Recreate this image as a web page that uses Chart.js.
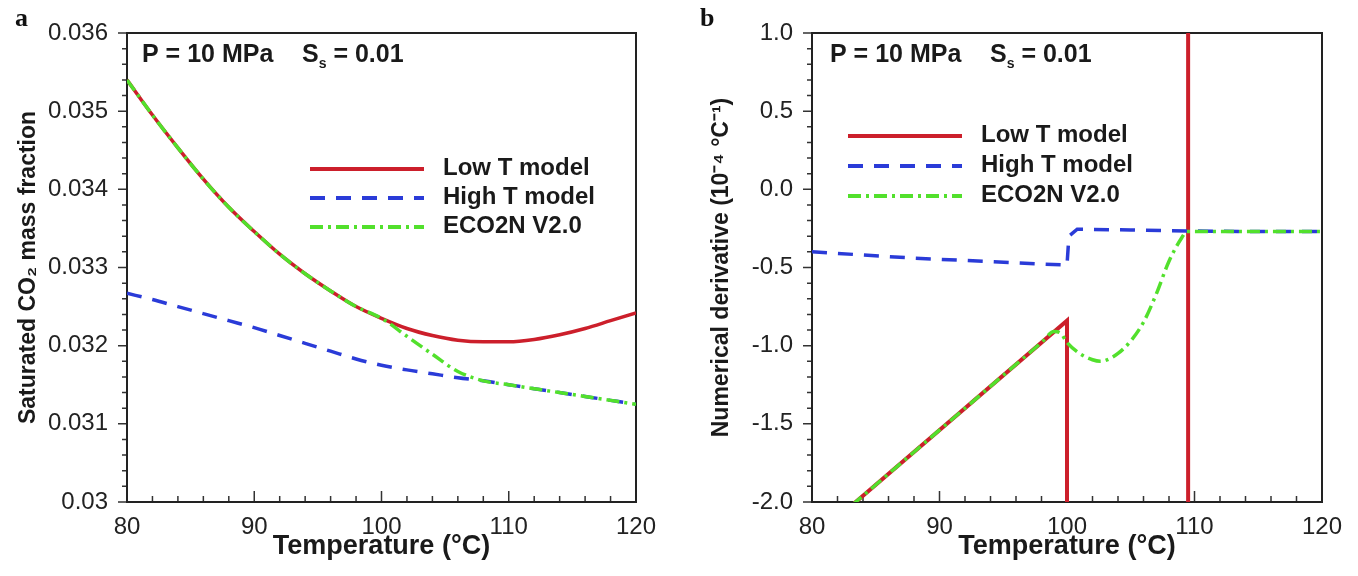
<!DOCTYPE html>
<html lang="en">
<head>
<meta charset="UTF-8">
<title>Saturated CO2 mass fraction and derivative</title>
<style>
    body { margin: 0; background: #fff; }
    .panel { position: absolute; top: 0; height: 576px; }
    #panelA { left: 0; width: 680px; }
    #panelB { left: 680px; width: 678px; }
</style>
<script src="https://cdn.jsdelivr.net/npm/chart.js"></script>
</head>
<body>
<div class="panel" id="panelA"><canvas id="chartA"></canvas></div>
<div class="panel" id="panelB"><canvas id="chartB"></canvas></div>

<script>
// ---- panel a: saturated CO2 mass fraction ----
var tempA   = [80, 82, 84, 86, 88, 90, 92, 94, 96, 98, 100, 102, 104, 106, 108, 110, 112, 114, 116, 118, 120];
var lowTA   = [0.03540, 0.03495, 0.03453, 0.03413, 0.03377, 0.03346, 0.03317, 0.03292, 0.03270, 0.03250, 0.03235,
               0.03222, 0.03213, 0.03207, 0.03205, 0.03205, 0.03208, 0.03214, 0.03222, 0.03232, 0.03242];
var highTA  = [0.03267, 0.03259, 0.03250, 0.03241, 0.03232, 0.03223, 0.03213, 0.03203, 0.03193, 0.03183, 0.03175,
               0.03169, 0.03164, 0.03159, 0.03155, 0.03150, 0.03145, 0.03140, 0.03135, 0.03130, 0.03125];
var ecoA    = [0.03540, 0.03495, 0.03453, 0.03413, 0.03377, 0.03346, 0.03317, 0.03292, 0.03270, 0.03250, 0.03235,
               0.03212, 0.03189, 0.03167, 0.03155, 0.03150, 0.03145, 0.03140, 0.03135, 0.03130, 0.03125];
var yTicksA      = [0.030, 0.031, 0.032, 0.033, 0.034, 0.035, 0.036];
var yTickLabelsA = ['0.03', '0.031', '0.032', '0.033', '0.034', '0.035', '0.036'];

// ---- panel b: numerical derivative (1e-4 / degC) ----
var lowTBx  = [80, 100, 100, 109.5, 109.5, 120];
var lowTBy  = [-2.24, -0.84, -3.0, -3.0, 2.0, 2.0];
var highTBx = [80, 84, 88, 92, 96, 100, 100.15, 100.8, 105, 110, 115, 120];
var highTBy = [-0.40, -0.42, -0.44, -0.455, -0.47, -0.485, -0.30, -0.255, -0.26, -0.267, -0.27, -0.27];
var ecoBx   = [80, 84, 88, 92, 96, 98, 99, 99.5, 100, 101, 102, 102.6, 103, 104, 105, 106, 107, 108, 109, 109.4, 110, 115, 120];
var ecoBy   = [-2.24, -1.96, -1.68, -1.40, -1.12, -0.98, -0.91, -0.92, -0.98, -1.05, -1.09, -1.10, -1.095, -1.05,
               -0.97, -0.85, -0.67, -0.46, -0.31, -0.27, -0.27, -0.27, -0.27];
var yTicksB      = [-2.0, -1.5, -1.0, -0.5, 0.0, 0.5, 1.0];
var yTickLabelsB = ['-2.0', '-1.5', '-1.0', '-0.5', '0.0', '0.5', '1.0'];

var xTicks = [80, 90, 100, 110, 120];
var seriesNames = ['Low T model', 'High T model', 'ECO2N V2.0'];

var RED = '#cc1f2b', BLUE = '#2a3bd8', GREEN = '#52e02c';
var DASH_BLUE = [15, 11], DASH_GREEN = [13, 5, 3, 5];
var SANS = '"Liberation Sans", Arial, Helvetica, sans-serif';

function pairs(xs, ys) {
    return xs.map(function (x, i) { return { x: x, y: ys[i] }; });
}

// ticks, frame, legend and labels
var decor = {
    id: 'decor',
    beforeDatasetsDraw: function (chart, args, o) {
        var ctx = chart.ctx, a = chart.chartArea, xs = chart.scales.x, ys = chart.scales.y;
        ctx.save();
        ctx.strokeStyle = '#333';
        ctx.lineWidth = 1.5;
        ctx.beginPath();
        // bottom axis: ticks point inward
        for (var i = 0; i <= 20; i++) {
            var px = xs.getPixelForValue(80 + i * 2);
            var len = (i % 5 === 0) ? 11 : 6;
            ctx.moveTo(px, a.bottom);
            ctx.lineTo(px, a.bottom - len);
        }
        // left axis: ticks point outward
        for (var j = 0; j <= 30; j++) {
            var py = ys.getPixelForValue(o.yMin + j * o.yMinor);
            var l2 = (j % 5 === 0) ? 9 : 5;
            ctx.moveTo(a.left, py);
            ctx.lineTo(a.left - l2, py);
        }
        ctx.stroke();
        ctx.lineWidth = 2;
        ctx.strokeStyle = '#222';
        ctx.strokeRect(a.left, a.top, a.right - a.left, a.bottom - a.top);
        ctx.restore();
    },
    afterDraw: function (chart, args, o) {
        var ctx = chart.ctx;
        ctx.save();
        // panel letter
        ctx.fillStyle = '#111';
        ctx.font = 'bold 26px "Liberation Serif", "Times New Roman", serif';
        ctx.textBaseline = 'alphabetic';
        ctx.fillText(o.letter, o.letterX, 26);

        // P and Ss annotation
        ctx.font = 'bold 25px ' + SANS;
        ctx.fillStyle = '#1a1a1a';
        ctx.fillText('P = 10 MPa', o.noteX, 62);
        var sx = o.noteX + 160;
        ctx.fillText('S', sx, 62);
        var sw = ctx.measureText('S').width;
        ctx.font = 'bold 14px ' + SANS;
        ctx.fillText('s', sx + sw, 68);
        var ssw = ctx.measureText('s').width;
        ctx.font = 'bold 25px ' + SANS;
        ctx.fillText(' = 0.01', sx + sw + ssw, 62);

        // legend
        var cols = [RED, BLUE, GREEN], dashes = [[], DASH_BLUE, DASH_GREEN];
        ctx.textBaseline = 'middle';
        ctx.font = 'bold 24px ' + SANS;
        for (var k = 0; k < 3; k++) {
            var ly = o.legY + k * o.legStep;
            ctx.beginPath();
            ctx.setLineDash(dashes[k]);
            ctx.strokeStyle = cols[k];
            ctx.lineWidth = 4;
            ctx.moveTo(o.legX, ly);
            ctx.lineTo(o.legX + 114, ly);
            ctx.stroke();
            ctx.setLineDash([]);
            ctx.fillStyle = '#1a1a1a';
            ctx.fillText(seriesNames[k], o.legX + 133, ly - 1);
        }
        ctx.restore();
    }
};

function makeChart(id, datasets, cfg) {
    return new Chart(document.getElementById(id).getContext('2d'), {
        type: 'line',
        data: { datasets: datasets },
        plugins: [decor],
        options: {
            responsive: true,
            maintainAspectRatio: false,
            animation: false,
            events: [],
            layout: { padding: { top: 33, right: cfg.padRight, bottom: 0, left: 0 } },
            elements: { point: { radius: 0 } },
            plugins: {
                legend: { display: false },
                tooltip: { enabled: false },
                decor: cfg.decor
            },
            scales: {
                x: {
                    type: 'linear',
                    min: 80, max: 120,
                    afterFit: function (s) { s.height = 74; },
                    afterBuildTicks: function (s) { s.ticks = xTicks.map(function (v) { return { value: v }; }); },
                    grid: { display: false },
                    border: { display: false },
                    ticks: {
                        padding: 3,
                        color: '#222',
                        font: { family: SANS, size: 24 },
                        callback: function (v) { return String(v); }
                    },
                    title: {
                        display: true,
                        text: 'Temperature (°C)',
                        color: '#1a1a1a',
                        font: { family: SANS, size: 27, weight: 'bold' },
                        padding: { top: 0, bottom: 13 }
                    }
                },
                y: {
                    type: 'linear',
                    min: cfg.yMin, max: cfg.yMax,
                    afterFit: function (s) { s.width = cfg.yWidth; },
                    afterBuildTicks: function (s) { s.ticks = cfg.yTicks.map(function (v) { return { value: v }; }); },
                    grid: { display: false },
                    border: { display: false },
                    ticks: {
                        padding: 11,
                        color: '#222',
                        font: { family: SANS, size: 24 },
                        callback: function (v, i) { return cfg.yLabels[i]; }
                    },
                    title: {
                        display: true,
                        text: cfg.yTitle,
                        color: '#1a1a1a',
                        font: { family: SANS, size: 23, weight: 'bold' },
                        padding: { top: cfg.titlePad, bottom: 0 }
                    }
                }
            }
        }
    });
}

function lineSet(data, color, dash, order, smooth, width) {
    return {
        data: data,
        borderColor: color,
        borderWidth: width || 3.5,
        borderDash: dash,
        fill: false,
        order: order,
        cubicInterpolationMode: smooth ? 'monotone' : 'default',
        tension: 0
    };
}

makeChart('chartA', [
    lineSet(pairs(tempA, lowTA), RED, [], 3, true),
    lineSet(pairs(tempA, highTA), BLUE, DASH_BLUE, 2, true),
    lineSet(pairs(tempA, ecoA), GREEN, DASH_GREEN, 1, true)
], {
    padRight: 44, yWidth: 127, yMin: 0.03, yMax: 0.036,
    yTicks: yTicksA, yLabels: yTickLabelsA, titlePad: 15,
    yTitle: 'Saturated CO₂ mass fraction',
    decor: { yMin: 0.03, yMinor: 0.0002, letter: 'a', letterX: 15, noteX: 142, legX: 310, legY: 169, legStep: 29 }
});

makeChart('chartB', [
    lineSet(pairs(lowTBx, lowTBy), RED, [], 3, false, 4),
    lineSet(pairs(highTBx, highTBy), BLUE, DASH_BLUE, 2, false),
    lineSet(pairs(ecoBx, ecoBy), GREEN, DASH_GREEN, 1, true)
], {
    padRight: 36, yWidth: 132, yMin: -2.0, yMax: 1.0,
    yTicks: yTicksB, yLabels: yTickLabelsB, titlePad: 28,
    yTitle: 'Numerical derivative (10⁻⁴ °C⁻¹)',
    decor: { yMin: -2.0, yMinor: 0.1, letter: 'b', letterX: 20, noteX: 150, legX: 168, legY: 136, legStep: 30 }
});
</script>
</body>
</html>
